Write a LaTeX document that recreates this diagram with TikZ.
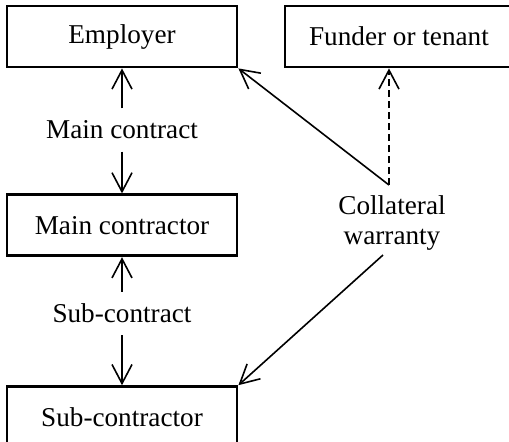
\documentclass[tikz,border=0pt]{standalone}
\usepackage{fontspec}
\setmainfont{Liberation Serif}
\usetikzlibrary{positioning, arrows.meta}

\begin{document}
\begin{tikzpicture}[x=0.5pt, y=-0.5pt,
  font=\fontsize{13.6}{14.8}\selectfont,
  party/.style={draw, line width=1.4pt, minimum width=115pt, minimum height=30.5pt, inner sep=0pt},
  lbl/.style={inner sep=6pt, align=center},
  arr/.style={-{Straight Barb[length=9.5pt, width=10pt, line width=0.8pt]}, line width=0.8pt}]
  \useasboundingbox (0,0) rectangle (509,441);
  \node[party] (emp) at (122,36.5) {Employer};
  \node[party, minimum width=114pt] (fund) at (399,36.5) {Funder or tenant};
  \node[party, below=62.5pt of emp] (mc) {Main contractor};
  \node[party, below=64pt of mc] (sub) {Sub-contractor};
  \node[lbl] (mcl) at (122,130) {Main contract};
  \node[lbl] (scl) at (122,313.5) {Sub-contract};
  \node[lbl] (cw) at (392,223) {Collateral\\warranty};
  \coordinate (cwt) at (389,185);
  \coordinate (cwb) at (383,255);
  \draw[arr] (mcl) -- (emp);
  \draw[arr] (mcl) -- (mc);
  \draw[arr] (scl) -- (mc);
  \draw[arr] (scl) -- (sub);
  \draw[arr] (cwt) -- (emp.south east);
  \draw[arr, dash pattern=on 3.5pt off 2pt] (cwt) -- (cwt |- fund.south);
  \draw[arr] (cwb) -- (sub.north east);
\end{tikzpicture}
\end{document}
